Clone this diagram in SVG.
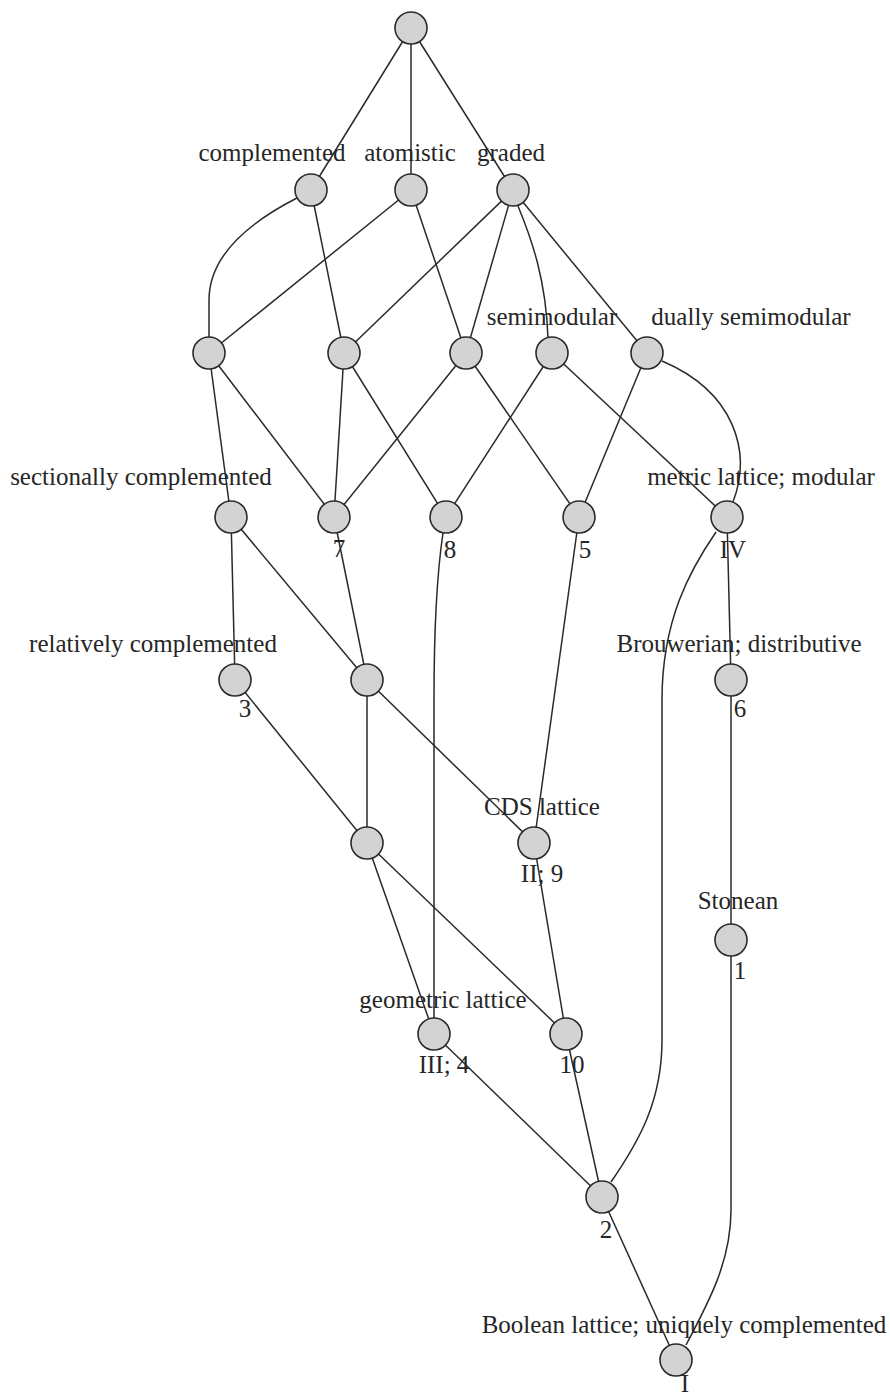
<svg xmlns="http://www.w3.org/2000/svg" width="890" height="1398" viewBox="0 0 890 1398">
  <style>
    .edge { fill: none; stroke: #2a2a2a; stroke-width: 1.5; }
    .node circle { fill: #d3d3d3; stroke: #2a2a2a; stroke-width: 1.6; }
    text { font-family: "Liberation Serif", "Times New Roman", serif; font-size: 25px; fill: #262626; text-anchor: middle; }
  </style>
  <rect width="890" height="1398" fill="#ffffff"/>

  <!-- connectors (Hasse diagram edges) -->
  <g id="edges">
    <!-- top to second row -->
    <path class="edge" d="M411,28 L311,190"/>
    <path class="edge" d="M411,28 L411,190"/>
    <path class="edge" d="M411,28 L513,190"/>
    <!-- second row to third row -->
    <path class="edge" d="M297,198 C250,222 209,255 209,300 L209,338"/>
    <path class="edge" d="M311,190 L344,353"/>
    <path class="edge" d="M411,190 L209,353"/>
    <path class="edge" d="M411,190 L466,353"/>
    <path class="edge" d="M513,190 L344,353"/>
    <path class="edge" d="M513,190 L466,353"/>
    <path class="edge" d="M518,206 C532,240 546,280 548,338"/>
    <path class="edge" d="M513,190 L647,353"/>
    <!-- third row to fourth row -->
    <path class="edge" d="M209,353 L231,517"/>
    <path class="edge" d="M209,353 L334,517"/>
    <path class="edge" d="M344,353 L334,517"/>
    <path class="edge" d="M344,353 L446,517"/>
    <path class="edge" d="M466,353 L334,517"/>
    <path class="edge" d="M466,353 L579,517"/>
    <path class="edge" d="M552,353 L446,517"/>
    <path class="edge" d="M552,353 L727,517"/>
    <path class="edge" d="M647,353 L579,517"/>
    <path class="edge" d="M662,361 C735,392 752,452 733,502"/>
    <!-- lower part -->
    <path class="edge" d="M231,517 L235,680"/>
    <path class="edge" d="M231,517 L367,680"/>
    <path class="edge" d="M334,517 L367,680"/>
    <path class="edge" d="M443,533 C436,580 434,640 434,700 L434,1034"/>
    <path class="edge" d="M579,517 L534,843"/>
    <path class="edge" d="M716,532 C690,570 662,620 662,700 L662,1040 C662,1100 640,1140 611,1182"/>
    <path class="edge" d="M727,517 L731,680"/>
    <path class="edge" d="M367,680 L367,843"/>
    <path class="edge" d="M367,680 L534,843"/>
    <path class="edge" d="M235,680 L367,843"/>
    <path class="edge" d="M731,680 L731,940"/>
    <path class="edge" d="M367,843 L434,1034"/>
    <path class="edge" d="M367,843 L566,1034"/>
    <path class="edge" d="M534,843 L566,1034"/>
    <path class="edge" d="M731,956 L731,1210 C731,1260 710,1300 686,1345"/>
    <path class="edge" d="M434,1034 L602,1197"/>
    <path class="edge" d="M566,1034 L602,1197"/>
    <path class="edge" d="M602,1197 L676,1360"/>
  </g>

  <!-- nodes -->
  <g id="lattice" class="node"><circle cx="411" cy="28" r="16"/></g>
  <g id="complemented" class="node"><circle cx="311" cy="190" r="16"/><text x="272" y="161">complemented</text></g>
  <g id="atomistic" class="node"><circle cx="411" cy="190" r="16"/><text x="410" y="161">atomistic</text></g>
  <g id="graded" class="node"><circle cx="513" cy="190" r="16"/><text x="511" y="161">graded</text></g>

  <g id="n_a" class="node"><circle cx="209" cy="353" r="16"/></g>
  <g id="n_b" class="node"><circle cx="344" cy="353" r="16"/></g>
  <g id="n_c" class="node"><circle cx="466" cy="353" r="16"/></g>
  <g id="semimodular" class="node"><circle cx="552" cy="353" r="16"/><text x="552" y="325">semimodular</text></g>
  <g id="dually_semimodular" class="node"><circle cx="647" cy="353" r="16"/><text x="751" y="325">dually semimodular</text></g>

  <g id="sectionally_complemented" class="node"><circle cx="231" cy="517" r="16"/><text x="141" y="485">sectionally complemented</text></g>
  <g id="n7" class="node"><circle cx="334" cy="517" r="16"/><text x="339" y="557">7</text></g>
  <g id="n8" class="node"><circle cx="446" cy="517" r="16"/><text x="450" y="558">8</text></g>
  <g id="n5" class="node"><circle cx="579" cy="517" r="16"/><text x="585" y="558">5</text></g>
  <g id="modular" class="node"><circle cx="727" cy="517" r="16"/><text x="761" y="485">metric lattice; modular</text><text x="733" y="558">IV</text></g>

  <g id="relatively_complemented" class="node"><circle cx="235" cy="680" r="16"/><text x="153" y="652">relatively complemented</text><text x="245" y="717">3</text></g>
  <g id="n_d" class="node"><circle cx="367" cy="680" r="16"/></g>
  <g id="distributive" class="node"><circle cx="731" cy="680" r="16"/><text x="739" y="652">Brouwerian; distributive</text><text x="740" y="717">6</text></g>

  <g id="n_e" class="node"><circle cx="367" cy="843" r="16"/></g>
  <g id="cds" class="node"><circle cx="534" cy="843" r="16"/><text x="542" y="815">CDS lattice</text><text x="542" y="882">II; 9</text></g>

  <g id="stonean" class="node"><circle cx="731" cy="940" r="16"/><text x="738" y="909">Stonean</text><text x="740" y="979">1</text></g>

  <g id="geometric" class="node"><circle cx="434" cy="1034" r="16"/><text x="443" y="1008">geometric lattice</text><text x="444" y="1073">III; 4</text></g>
  <g id="n10" class="node"><circle cx="566" cy="1034" r="16"/><text x="572" y="1073">10</text></g>

  <g id="n2" class="node"><circle cx="602" cy="1197" r="16"/><text x="606" y="1238">2</text></g>

  <g id="boolean" class="node"><circle cx="676" cy="1360" r="16"/><text x="684" y="1333">Boolean lattice; uniquely complemented</text><text x="685" y="1392">I</text></g>
</svg>
